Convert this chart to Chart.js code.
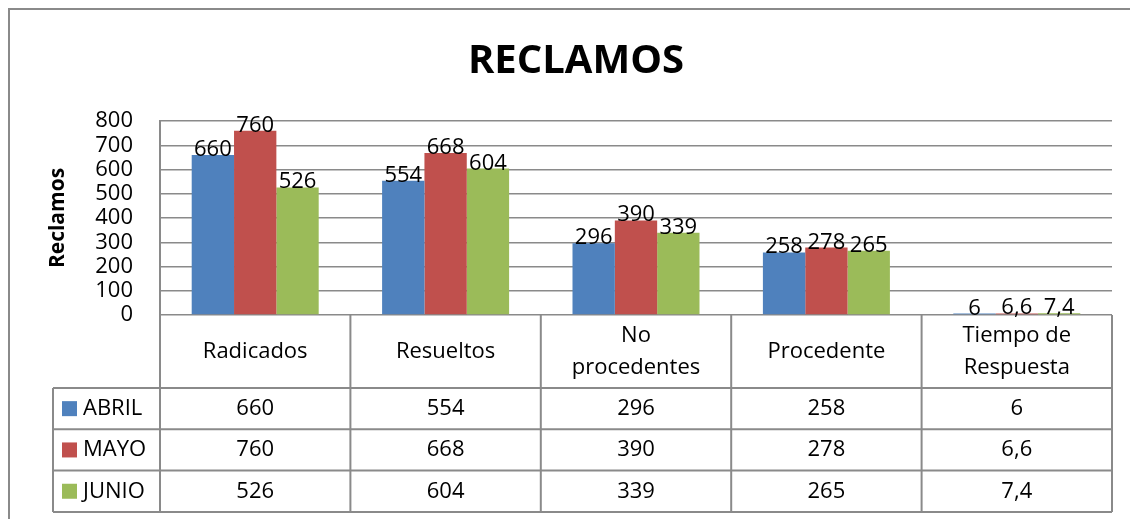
<!DOCTYPE html>
<html>
<head>
<meta charset="utf-8">
<title>Reclamos</title>
<script src="https://cdn.jsdelivr.net/npm/chart.js@4/dist/chart.umd.min.js"></script>
<style>
  html, body { margin: 0; padding: 0; background: #fff; }
  #wrap { width: 1130px; height: 519px; }
</style>
</head>
<body>
<div id="wrap"><canvas id="myChart" width="1130" height="519"></canvas></div>
<script>
// data
const categories = ['Radicados', 'Resueltos', 'No procedentes', 'Procedente', 'Tiempo de Respuesta'];
const headerLines = [['Radicados'], ['Resueltos'], ['No', 'procedentes'], ['Procedente'], ['Tiempo de', 'Respuesta']];
const seriesNames = ['ABRIL', 'MAYO', 'JUNIO'];
const abril = [660, 554, 296, 258, 6];
const mayo = [760, 668, 390, 278, 6.6];
const junio = [526, 604, 339, 265, 7.4];
const yMax = 800;
const yStep = 100;

const colors = ['#4F81BD', '#C0504D', '#9BBB59'];
const lineColor = '#8a8a8a';
const FONT = '"Open Sans", sans-serif';

// numbers use a comma as decimal mark
function fmt(v) {
    return String(v).replace('.', ',');
}

const tablePlugin = {
    id: 'dataTable',
    beforeDraw(chart) {
        // outer frame (only top and left edges are inside the picture)
        const ctx = chart.ctx;
        ctx.save();
        ctx.strokeStyle = lineColor;
        ctx.lineWidth = 2;
        ctx.beginPath();
        ctx.moveTo(9, chart.height);
        ctx.lineTo(9, 9);
        ctx.lineTo(chart.width, 9);
        ctx.stroke();
        ctx.restore();
    },
    afterDatasetsDraw(chart) {
        // value labels on top of each bar
        const ctx = chart.ctx;
        ctx.save();
        ctx.font = '22px ' + FONT;
        ctx.fillStyle = '#000';
        ctx.textAlign = 'center';
        ctx.textBaseline = 'alphabetic';
        chart.data.datasets.forEach((ds, di) => {
            const meta = chart.getDatasetMeta(di);
            meta.data.forEach((bar, i) => {
                ctx.fillText(fmt(ds.data[i]), bar.x, bar.y + 1);
            });
        });
        ctx.restore();
    },
    afterDraw(chart) {
        const ctx = chart.ctx;
        const area = chart.chartArea;
        const xScale = chart.scales.x;
        const n = categories.length;
        const colW = (area.right - area.left) / n;
        const legendLeft = 53;
        const headerBottom = area.bottom + 73;
        const rowH = 41.3;
        const tableBottom = headerBottom + rowH * seriesNames.length;

        ctx.save();
        ctx.strokeStyle = lineColor;
        ctx.lineWidth = 2;
        ctx.beginPath();
        // vertical lines between categories
        for (let i = 0; i <= n; i++) {
            const x = area.left + i * colW;
            ctx.moveTo(x, area.bottom);
            ctx.lineTo(x, tableBottom);
        }
        // legend column left edge
        ctx.moveTo(legendLeft, headerBottom);
        ctx.lineTo(legendLeft, tableBottom);
        // horizontal lines
        for (let r = 0; r <= seriesNames.length; r++) {
            const y = headerBottom + r * rowH;
            ctx.moveTo(legendLeft, y);
            ctx.lineTo(area.right, y);
        }
        ctx.stroke();

        ctx.fillStyle = '#000';
        ctx.font = '22px ' + FONT;
        ctx.textAlign = 'center';
        ctx.textBaseline = 'middle';

        // header row with category names
        const headerMid = (area.bottom + headerBottom) / 2;
        const lineH = 32;
        headerLines.forEach((lines, i) => {
            const cx = xScale.getPixelForValue(i);
            const y0 = headerMid - (lines.length - 1) * lineH / 2;
            lines.forEach((t, k) => ctx.fillText(t, cx, y0 + k * lineH));
        });

        // one row per series
        const rows = [abril, mayo, junio];
        rows.forEach((vals, r) => {
            const cy = headerBottom + r * rowH + rowH / 2;
            ctx.fillStyle = colors[r];
            ctx.fillRect(62, cy - 7.5, 15, 15);
            ctx.fillStyle = '#000';
            ctx.textAlign = 'left';
            ctx.fillText(seriesNames[r], 83, cy);
            ctx.textAlign = 'center';
            vals.forEach((v, i) => {
                ctx.fillText(fmt(v), xScale.getPixelForValue(i), cy);
            });
        });
        ctx.restore();
    }
};

const myChartRef = document.getElementById('myChart').getContext('2d');

new Chart(myChartRef, {
    type: 'bar',
    data: {
        labels: categories,
        datasets: [
            { label: seriesNames[0], data: abril, backgroundColor: colors[0] },
            { label: seriesNames[1], data: mayo, backgroundColor: colors[1] },
            { label: seriesNames[2], data: junio, backgroundColor: colors[2] }
        ]
    },
    options: {
        responsive: false,
        animation: false,
        devicePixelRatio: 1,
        layout: { padding: { left: 40, right: 18, top: 0, bottom: 204 } },
        datasets: {
            bar: { categoryPercentage: 0.667, barPercentage: 1.0, borderWidth: 0 }
        },
        plugins: {
            legend: { display: false },
            tooltip: { enabled: false },
            title: {
                display: true,
                text: 'RECLAMOS',
                color: '#000',
                font: { family: FONT, size: 40, weight: 'bold', lineHeight: 1.2 },
                padding: { top: 38, bottom: 35 }
            }
        },
        scales: {
            x: {
                display: false
            },
            y: {
                min: 0,
                max: yMax,
                afterFit(scale) { scale.width = 120; },
                ticks: {
                    stepSize: yStep,
                    autoSkip: false,
                    color: '#000',
                    padding: 27,
                    font: { family: FONT, size: 22, lineHeight: 1.0 }
                },
                grid: { color: lineColor, lineWidth: 1.5, drawTicks: false },
                border: { display: true, color: lineColor, width: 2 },
                title: {
                    display: true,
                    text: 'Reclamos',
                    color: '#000',
                    font: { family: FONT, size: 21, weight: 'bold' },
                    padding: { top: 5, bottom: 0 }
                }
            }
        }
    },
    plugins: [tablePlugin]
});
</script>
</body>
</html>
